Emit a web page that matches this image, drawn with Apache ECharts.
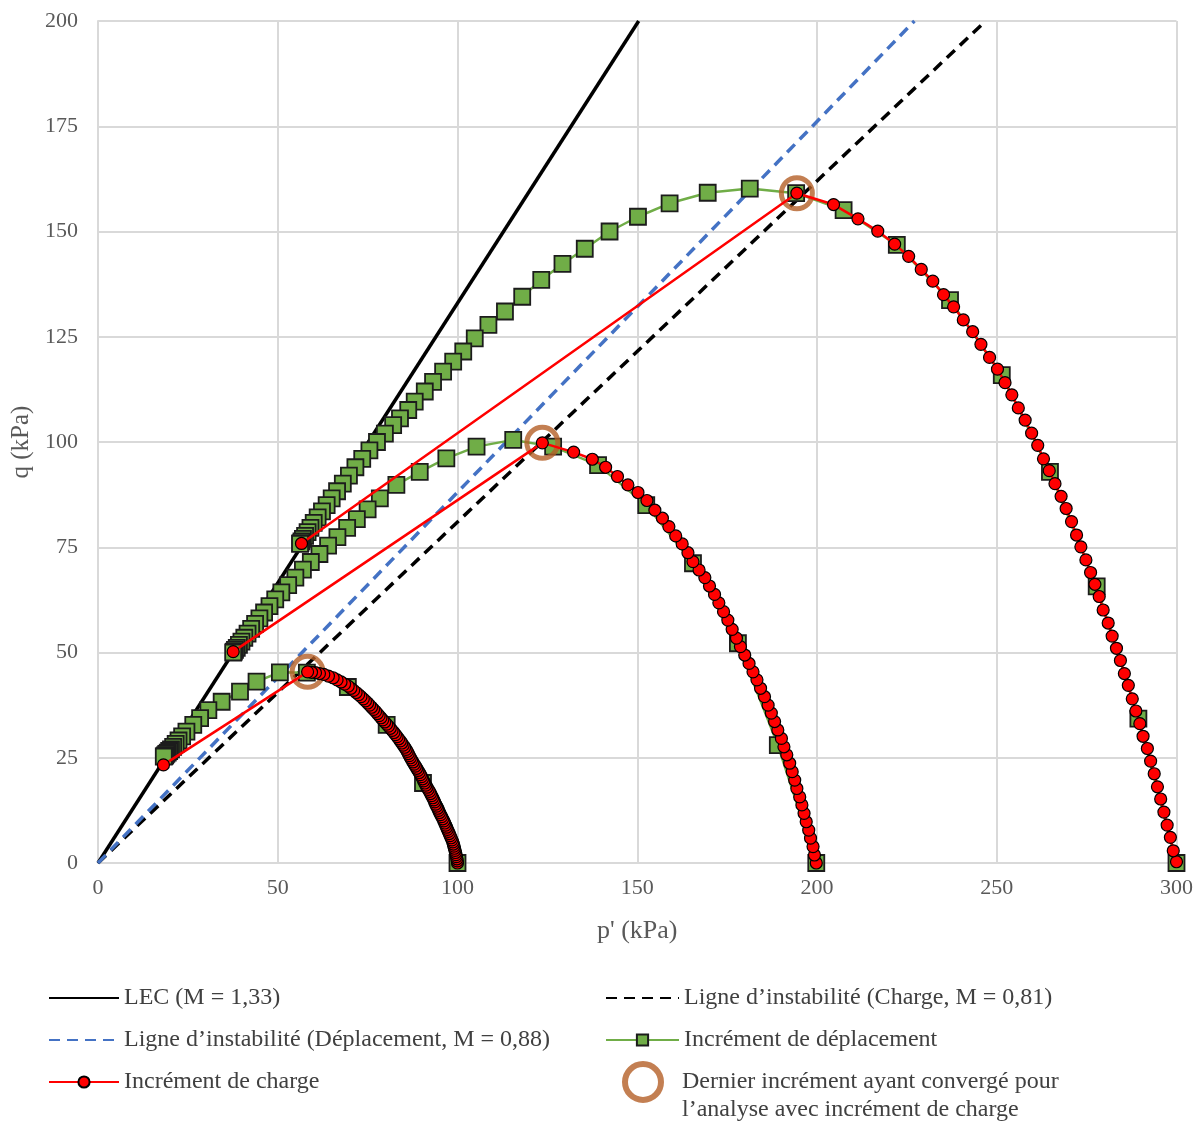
<!DOCTYPE html>
<html lang="fr">
<head>
    <meta charset="UTF-8">
    <title>Chemins de contraintes</title>
    <script src="https://cdn.jsdelivr.net/npm/echarts/dist/echarts.min.js"></script>
    <style>
        html, body { margin: 0; padding: 0; background: #fff; }
        #main { width: 1196px; height: 1124px; }
    </style>
</head>
<body>
<div id="main"></div>
<script>
    // axes (kPa)
    var pTicks = [0, 50, 100, 150, 200, 250, 300];
    var qTicks = [0, 25, 50, 75, 100, 125, 150, 175, 200];

    // droites : LEC et lignes d'instabilite (point origine, point au bord haut)
    var lecLine = [[0, 0], [150.4, 200]];
    var instabDeplLine = [[0, 0], [227.1, 200]];
    var instabChargeLine = [[0, 0], [246.9, 200]];

    // increment de deplacement, essais p0 = 100, 200, 300 kPa
    var deplTest100 = [[100, 0], [90.4, 19], [80.3, 32.8], [69.5, 41.8], [58.1, 45.2], [50.6, 45.3], [44.1, 43.1],
        [39.5, 40.7], [34.4, 38.3], [30.7, 36.3], [28.4, 34.4], [26.5, 32.8], [24.6, 31.2], [23.4, 30.1], [22.4, 29.1],
        [21.6, 28.3], [20.9, 27.6], [20.3, 27.0], [19.8, 26.6], [19.4, 26.2], [19.0, 25.9], [18.7, 25.6], [18.5, 25.4],
        [18.3, 25.3]];
    var deplTest200 = [[199.8, 0], [189.1, 28], [178, 52.2], [165.5, 71.2], [152.5, 85], [139.1, 94.5], [126.6, 98.9],
        [115.5, 100.5], [105.3, 98.9], [96.9, 96.1], [89.5, 92.9], [83.0, 89.8], [78.4, 86.6], [75.0, 84.0], [72.0, 81.7],
        [69.3, 79.6], [66.6, 77.4], [64.0, 75.4], [61.6, 73.4], [59.2, 71.5], [57.0, 69.7], [54.9, 67.8], [52.9, 66.0],
        [51.0, 64.3], [49.3, 62.6], [47.7, 61.0], [46.2, 59.5], [44.9, 58.1], [43.7, 56.8], [42.6, 55.6], [41.6, 54.5],
        [40.7, 53.5], [39.9, 52.6], [39.2, 51.8], [38.6, 51.1], [38.1, 50.6], [37.8, 50.2], [37.6, 50.0]];
    var deplTest300 = [[300, 0], [289.4, 34.3], [277.8, 65.7], [264.8, 92.9], [251.4, 115.9], [237, 133.7], [222.2, 146.8],
        [207.4, 155.1], [194.2, 159.1], [181.3, 160.2], [169.6, 159.2], [159, 156.7], [150.2, 153.5], [142.3, 150],
        [135.4, 145.9], [129.2, 142.3], [123.3, 138.5], [118, 134.5], [113.2, 131], [108.6, 127.8], [104.8, 124.6],
        [101.6, 121.5], [98.8, 119.1], [96, 116.7], [93.2, 114.3], [90.9, 112], [88.1, 109.6], [86.3, 107.6], [84, 105.6],
        [82.1, 104], [79.8, 102], [77.6, 100], [75.5, 98], [73.5, 96], [71.6, 94], [69.8, 92], [68.1, 90.1], [66.5, 88.3],
        [65.0, 86.6], [63.6, 85.0], [62.3, 83.5], [61.1, 82.1], [60.0, 80.8], [59.1, 79.6], [58.3, 78.6], [57.6, 77.7],
        [57.0, 77.0], [56.6, 76.4], [56.3, 76.0], [56.2, 75.8]];

    // increment de charge (dernier point = saut vers la LEC apres divergence)
    var chargeTest100 = [[100, 0], [99.95, 0.5], [99.85, 1], [99.7, 1.5], [99.6, 2], [99.45, 2.5], [99.3, 3],
        [99.15, 3.5], [99.0, 4], [98.85, 4.5], [98.7, 5], [98.45, 5.5], [98.2, 6], [97.95, 6.5], [97.7, 7], [97.45, 7.5],
        [97.2, 8], [96.95, 8.5], [96.7, 9], [96.45, 9.5], [96.2, 10], [95.9, 10.5], [95.6, 11], [95.3, 11.5], [95.0, 12],
        [94.75, 12.5], [94.5, 13], [94.2, 13.5], [93.9, 14], [93.65, 14.5], [93.4, 15], [93.1, 15.5], [92.8, 16],
        [92.5, 16.5], [92.2, 17], [91.85, 17.5], [91.5, 18], [91.2, 18.5], [90.9, 19], [90.6, 19.5], [90.3, 20],
        [90.0, 20.5], [89.7, 21], [89.35, 21.5], [89.0, 22], [88.65, 22.5], [88.3, 23], [87.95, 23.5], [87.6, 24],
        [87.25, 24.5], [86.9, 25], [86.6, 25.5], [86.3, 26], [86.0, 26.5], [85.7, 27], [85.3, 27.5], [84.9, 28],
        [84.5, 28.5], [84.1, 29], [83.65, 29.5], [83.2, 30], [82.75, 30.5], [82.3, 31], [81.8, 31.5], [81.3, 32],
        [80.8, 32.5], [80.3, 33], [79.75, 33.5], [79.2, 34], [78.7, 34.5], [78.2, 35], [77.7, 35.5], [77.2, 36],
        [76.65, 36.5], [76.1, 37], [75.55, 37.5], [75.0, 38], [74.4, 38.5], [73.8, 39], [73.15, 39.5], [72.5, 40],
        [71.8, 40.5], [71.1, 41], [70.35, 41.5], [69.6, 42], [68.6, 42.5], [67.6, 43], [66.5, 43.5], [65.4, 44],
        [64.1, 44.4], [62.8, 44.8], [61.6, 45.0], [60.5, 45.2], [59.4, 45.3], [58.3, 45.4], [18.2, 23.3]];
    var chargeTest200 = [[199.8, 0], [199.3, 1.9], [198.9, 3.9], [198.2, 5.9], [197.7, 7.8], [197.0, 9.8], [196.4, 11.8],
        [195.8, 13.8], [195.2, 15.7], [194.4, 17.7], [193.8, 19.7], [193.1, 21.7], [192.4, 23.7], [191.6, 25.7],
        [190.8, 27.6], [190.1, 29.6], [189.1, 31.6], [188.2, 33.6], [187.3, 35.6], [186.4, 37.5], [185.4, 39.5],
        [184.3, 41.5], [183.3, 43.5], [182.2, 45.4], [181.1, 47.4], [179.9, 49.4], [178.7, 51.4], [177.6, 53.4],
        [176.4, 55.5], [175.2, 57.7], [174.0, 59.7], [172.7, 61.8], [171.5, 63.8], [170.1, 65.8], [168.8, 67.8],
        [167.2, 69.6], [165.5, 71.6], [164.1, 73.7], [162.5, 75.8], [160.7, 77.7], [158.8, 79.9], [157.0, 81.9],
        [154.9, 83.8], [152.7, 86.1], [150.2, 88.0], [147.4, 89.8], [144.5, 91.8], [141.2, 94.0], [137.5, 95.9],
        [132.3, 97.6], [123.6, 99.8], [37.6, 50.2]];
    var chargeTest300 = [[300, 0.3], [299.1, 2.9], [298.3, 6.1], [297.4, 9], [296.5, 12.1], [295.6, 15.2], [294.7, 18.1],
        [293.8, 21.2], [292.8, 24.2], [291.9, 27.2], [290.7, 30.1], [289.8, 33.1], [288.7, 36.1], [287.7, 39],
        [286.6, 42.2], [285.5, 45], [284.4, 48.1], [283.3, 51], [282.1, 53.9], [281, 57], [279.6, 60.1], [278.5, 63.3],
        [277.3, 66.2], [276.1, 69], [274.8, 72], [273.4, 75.1], [272.2, 77.9], [270.8, 81.1], [269.3, 84.2],
        [267.9, 87.1], [266.2, 90.1], [264.6, 93.2], [263, 96], [261.4, 99.2], [259.7, 102.1], [257.9, 105.2],
        [256, 108.1], [254.2, 111.2], [252.3, 114.1], [250.2, 117.3], [248, 120.1], [245.6, 123.2], [243.3, 126.2],
        [240.7, 129], [238, 132.1], [235.2, 135], [232.2, 138.2], [229, 141], [225.5, 144.1], [221.6, 147],
        [216.9, 150.1], [211.4, 153], [204.6, 156.4], [194.4, 159.1], [56.6, 75.9]];

    // dernier increment converge (analyse en charge)
    var lastConverged = [[58.3, 45.4], [123.6, 99.8], [194.4, 159.1]];

    var names = {
        lec: 'LEC (M = 1,33)',
        instabCharge: 'Ligne d\u2019instabilit\u00e9 (Charge, M = 0,81)',
        instabDepl: 'Ligne d\u2019instabilit\u00e9 (D\u00e9placement, M = 0,88)',
        depl: 'Incr\u00e9ment de d\u00e9placement',
        charge: 'Incr\u00e9ment de charge',
        ring: 'Dernier incr\u00e9ment ayant converg\u00e9 pour\nl\u2019analyse avec incr\u00e9ment de charge'
    };

    var font = '"Liberation Serif", "Times New Roman", serif';
    var gray = '#595959';
    var ringColor = '#B45F27';

    function deplSeries(data) {
        return {
            name: names.depl, type: 'line', data: data,
            symbol: 'rect', symbolSize: 16,
            lineStyle: { color: '#70AD47', width: 2.5 },
            itemStyle: { color: '#70AD47', borderColor: '#1c1c1c', borderWidth: 1.8 },
            z: 3
        };
    }
    function chargeSeries(data) {
        return {
            name: names.charge, type: 'line', data: data,
            symbol: 'circle', symbolSize: 12,
            lineStyle: { color: '#FF0000', width: 2.5 },
            itemStyle: { color: '#FF0000', borderColor: '#000', borderWidth: 1.2 },
            z: 5
        };
    }

    var legendText = { fontFamily: font, fontSize: 24, color: '#404040', lineHeight: 24 };
    var hideDot = { opacity: 0 };

    var myChart = echarts.init(document.getElementById('main'));
    var option = {
        animation: false,
        backgroundColor: '#fff',
        grid: { left: 98, right: 19, top: 21, bottom: 261 },
        xAxis: {
            type: 'value', min: pTicks[0], max: pTicks[pTicks.length - 1], interval: 50,
            name: "p' (kPa)", nameLocation: 'middle', nameGap: 55,
            nameTextStyle: { fontFamily: font, fontSize: 26, color: gray },
            axisLine: { show: true, lineStyle: { color: '#d9d9d9', width: 2 } },
            axisTick: { show: false },
            axisLabel: { fontFamily: font, fontSize: 22, color: gray, margin: 14 },
            splitLine: { show: true, lineStyle: { color: '#d9d9d9', width: 2 } }
        },
        yAxis: {
            type: 'value', min: qTicks[0], max: qTicks[qTicks.length - 1], interval: 25,
            name: 'q (kPa)', nameLocation: 'middle', nameGap: 57, nameRotate: 90,
            nameTextStyle: { fontFamily: font, fontSize: 25, color: gray },
            axisLine: { show: true, lineStyle: { color: '#d9d9d9', width: 2 } },
            axisTick: { show: false },
            axisLabel: { fontFamily: font, fontSize: 22, color: gray, margin: 20 },
            splitLine: { show: true, lineStyle: { color: '#d9d9d9', width: 2 } }
        },
        legend: [
            {   // colonne de gauche
                left: 48, top: 986, orient: 'vertical', padding: 0, itemGap: 18,
                itemWidth: 70, itemHeight: 14, textStyle: legendText, selectedMode: false,
                data: [
                    { name: names.lec, itemStyle: hideDot },
                    { name: names.instabDepl, itemStyle: hideDot },
                    { name: names.charge }
                ]
            },
            {   // colonne de droite
                left: 605, top: 986, orient: 'vertical', padding: 0, itemGap: 18,
                itemWidth: 73, itemHeight: 14, textStyle: legendText, selectedMode: false,
                data: [
                    { name: names.instabCharge, itemStyle: hideDot },
                    { name: names.depl }
                ]
            },
            {   // cercle : une ligne vide en tete pour aligner la 1re ligne sur le cercle
                left: 622, top: 1040, orient: 'vertical', padding: 0,
                itemWidth: 36, itemHeight: 36, selectedMode: false,
                formatter: function (n) { return ' \n' + n; },
                textStyle: { fontFamily: font, fontSize: 24, color: '#404040', lineHeight: 28, padding: [0, 0, 0, 16] },
                data: [{
                    name: names.ring, icon: 'circle',
                    itemStyle: { color: 'rgba(0,0,0,0)', borderColor: ringColor, borderWidth: 6 }
                }]
            }
        ],
        series: [
            {
                name: names.lec, type: 'line', data: lecLine, symbol: 'none',
                lineStyle: { color: '#000', width: 3.5 }, z: 1
            },
            {
                name: names.instabCharge, type: 'line', data: instabChargeLine, symbol: 'none',
                lineStyle: { color: '#000', width: 3.5, type: [11, 7] }, z: 1
            },
            {
                name: names.instabDepl, type: 'line', data: instabDeplLine, symbol: 'none',
                lineStyle: { color: '#4472C4', width: 3.5, type: [11, 7] }, z: 1
            },
            deplSeries(deplTest100),
            deplSeries(deplTest200),
            deplSeries(deplTest300),
            {
                name: names.ring, type: 'scatter', data: lastConverged,
                symbol: 'circle', symbolSize: 31,
                itemStyle: { color: 'rgba(0,0,0,0)', borderColor: ringColor, borderWidth: 5 },
                z: 4
            },
            chargeSeries(chargeTest100),
            chargeSeries(chargeTest200),
            chargeSeries(chargeTest300)
        ]
    };
    myChart.setOption(option);
</script>
</body>
</html>
